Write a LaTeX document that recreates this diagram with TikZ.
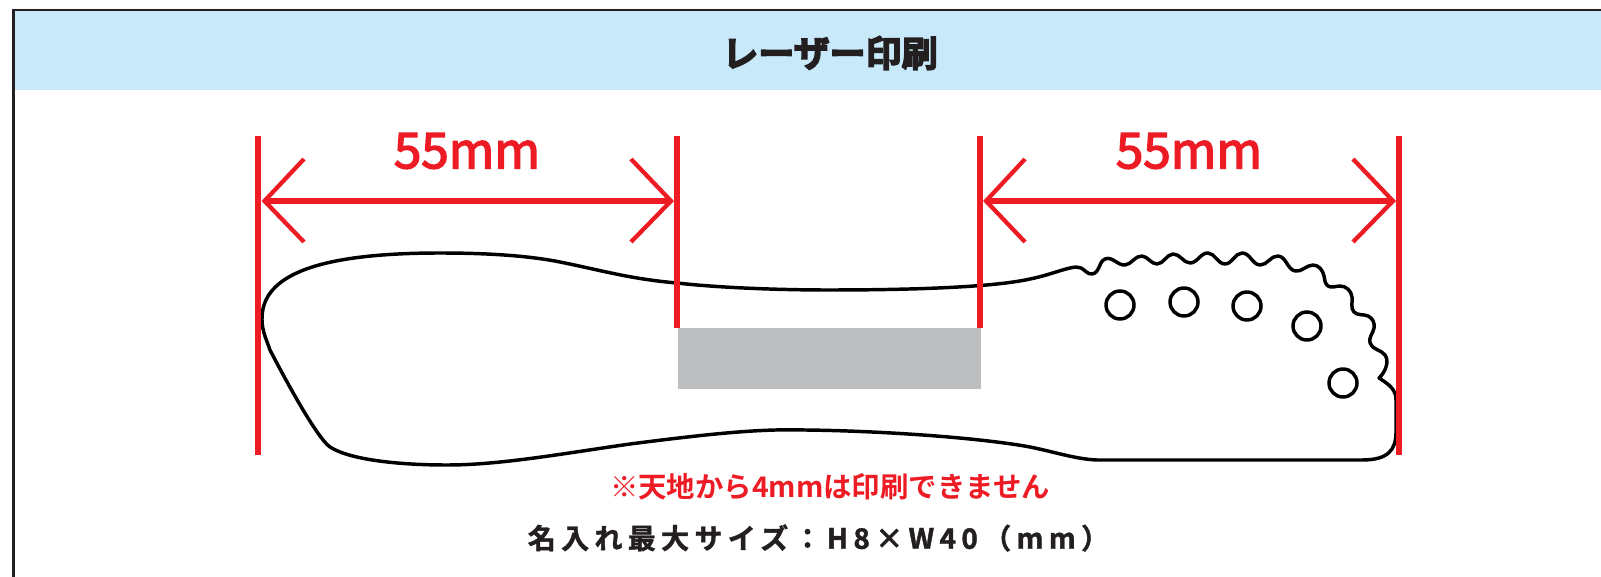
\documentclass[tikz,border=0pt]{standalone}
\usepackage{fontspec}
\usetikzlibrary{hobby}
\setmainfont{Noto Sans CJK JP}
\newfontfamily\spaced[LetterSpace=19,FakeBold=1.5]{Noto Sans CJK JP Bold}
\newfontfamily\midw[FakeBold=3]{Noto Sans CJK JP}
\newfontfamily\semi{Noto Sans CJK JP Bold}
\newfontfamily\heavy[FakeBold=4]{Noto Sans CJK JP Bold}
\definecolor{rd}{HTML}{ED1C24}
\definecolor{hdr}{HTML}{C7E9FA}
\definecolor{gry}{HTML}{BCBEC0}
\definecolor{ink}{HTML}{231F20}
\tikzset{
 redline/.style={draw=rd,line width=3.8pt},
 redshaft/.style={draw=rd,line width=4.1pt},
 redarrow/.style={draw=rd,line width=3.2pt,miter limit=8},
 outline/.style={draw=black,line width=2.6pt,line join=round},
 hole/.style={circle,draw=black,line width=2.6pt,minimum size=21pt,inner sep=0pt},
 dimlabel/.style={text=rd,font=\midw\fontsize{37}{40}\selectfont,inner sep=0pt},
}
\begin{document}
\begin{tikzpicture}[x=0.75pt,y=-0.75pt]
\useasboundingbox (0,0) rectangle (1601,577);
\fill[white] (0,0) rectangle (1601,577);
\fill[hdr] (14,11) rectangle (1601,90);
\draw[ink,line width=1.9pt] (13.3,577) -- (13.3,10) -- (1601,10);
\node[font=\heavy\fontsize{27}{30}\selectfont,text=ink,inner sep=0pt] (title) at (830,53) {レーザー印刷};
% print area
\fill[gry] (678,328) rectangle (981,389);
% body
\draw[outline] (262,320)
 .. controls (261,280) and (305,253) .. (440,253)
 .. controls (490,253) and (530,256) .. (560,262)
 .. controls (600,270) and (630,279) .. (677,283)
 .. controls (730,289) and (800,290) .. (827,290)
 .. controls (900,290) and (990,288) .. (1030,279)
 .. controls (1050,275) and (1065,268) .. (1076,267)
 to[curve through={(1081,268) .. (1092,274) .. (1105,259) .. (1125,265) .. (1142,256) .. (1157,264) .. (1173,254) .. (1190,263) .. (1208,253) .. (1225,264) .. (1242,253) .. (1260,265) .. (1278,256) .. (1295,271) .. (1313,265) .. (1324,276) .. (1328,286) .. (1340,286) .. (1352,297) .. (1354,312) .. (1368,316) .. (1374,328) .. (1370,343) .. (1385,355) .. (1386,367)}] (1379,378)
 .. controls (1390,385) and (1396,390) .. (1396,400)
 -- (1396,432)
 .. controls (1396,450) and (1388,460) .. (1362,460)
 -- (1097,460)
 .. controls (1075,459) and (1055,452) .. (1030,447)
 .. controls (970,436) and (850,429) .. (775,430)
 .. controls (740,431) and (700,435) .. (630,444)
 .. controls (560,454) and (500,465) .. (447,465)
 .. controls (400,465) and (350,460) .. (330,447)
 .. controls (316,437) and (283,375) .. (270,350)
 .. controls (267,341) and (262,331) .. (262,320) -- cycle;
\foreach \n/\cx/\cy in {a/1120/305,b/1184/302,c/1247/306,d/1307/326,e/1343/383}
 \node[hole] (\n) at (\cx,\cy) {};
% guide lines
\coordinate (l1) at (258,136); \coordinate (l2) at (258,455);
\coordinate (m1) at (677,136); \coordinate (m2) at (677,328);
\coordinate (n1) at (980,136); \coordinate (n2) at (980,328);
\coordinate (r1) at (1399,136); \coordinate (r2) at (1399,455);
\draw[redline] (l1) -- (l2);
\draw[redline] (m1) -- (m2);
\draw[redline] (n1) -- (n2);
\draw[redline] (r1) -- (r2);
% arrows
\coordinate (at1) at (264.5,201); \coordinate (at2) at (671,201);
\coordinate (bt1) at (986,201); \coordinate (bt2) at (1393,201);
\draw[redshaft] (at1) -- (at2);
\draw[redshaft] (bt1) -- (bt2);
\draw[redarrow] (304,159) -- (at1) -- (304,242);
\draw[redarrow] (631,159) -- (at2) -- (631,242);
\draw[redarrow] (1025,159) -- (bt1) -- (1025,242);
\draw[redarrow] (1353,159) -- (bt2) -- (1353,242);
\node[dimlabel] (dl) at (467,151) {55mm};
\node[dimlabel] (dr) at (1189,151) {55mm};
\node[text=rd,font=\semi\fontsize{21.3}{24}\selectfont,inner sep=0pt] (note) at (830,487) {※天地から4mmは印刷できません};
\node[text=ink,font=\spaced\fontsize{21}{24}\selectfont,inner sep=0pt] (size) at (818.5,538) {名入れ最大サイズ：H8×W40（mm）};
\end{tikzpicture}
\end{document}
